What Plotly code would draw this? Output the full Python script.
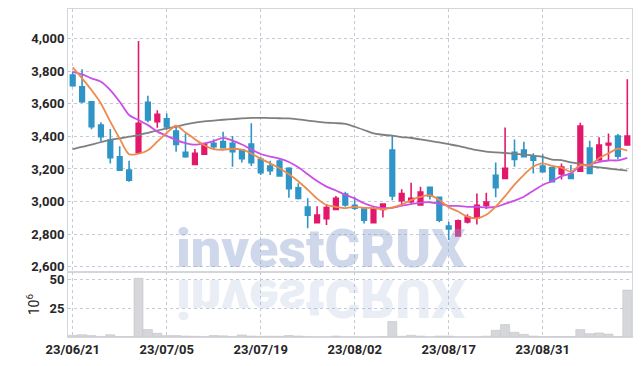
import plotly.graph_objects as go

dates = [
    "2023-06-21", "2023-06-22", "2023-06-23", "2023-06-26", "2023-06-27", "2023-06-28", "2023-06-29", "2023-06-30",
    "2023-07-03", "2023-07-04", "2023-07-05", "2023-07-06", "2023-07-07", "2023-07-10", "2023-07-11", "2023-07-12",
    "2023-07-13", "2023-07-14", "2023-07-17", "2023-07-18", "2023-07-19", "2023-07-20", "2023-07-21", "2023-07-24",
    "2023-07-25", "2023-07-26", "2023-07-27", "2023-07-28", "2023-07-31", "2023-08-01", "2023-08-02", "2023-08-03",
    "2023-08-04", "2023-08-07", "2023-08-08", "2023-08-09", "2023-08-10", "2023-08-11", "2023-08-14", "2023-08-16",
    "2023-08-17", "2023-08-18", "2023-08-21", "2023-08-22", "2023-08-23", "2023-08-24", "2023-08-25", "2023-08-28",
    "2023-08-29", "2023-08-30", "2023-08-31", "2023-09-01", "2023-09-04", "2023-09-05", "2023-09-06", "2023-09-07",
    "2023-09-08", "2023-09-11", "2023-09-12", "2023-09-13",
]

open_ = [3776, 3704, 3612, 3469, 3377, 3275, 3193, 3302, 3609, 3490,
         3508, 3432, 3302, 3228, 3290, 3357, 3369, 3357, 3316, 3353,
         3259, 3218, 3248, 3204, 3085, 2966, 2870, 2895, 2952, 3046,
         2977, 2954, 2870, 2952, 3316, 3005, 2999, 2979, 3087, 3026,
         2850, 2790, 2876, 2901, 2977, 3161, 3142, 3302, 3316, 3279,
         3218, 3208, 3169, 3169, 3187, 3328, 3255, 3347, 3402, 3347]
high = [3796, 3811, 3615, 3486, 3445, 3340, 3250, 3985, 3649, 3560,
        3540, 3469, 3418, 3322, 3358, 3383, 3428, 3402, 3320, 3480,
        3275, 3250, 3259, 3210, 3112, 3020, 2972, 2985, 3034, 3060,
        3026, 2956, 2972, 2990, 3402, 3075, 3116, 3091, 3091, 3030,
        2876, 2890, 2923, 3050, 3054, 3240, 3455, 3381, 3367, 3296,
        3291, 3210, 3234, 3224, 3484, 3373, 3394, 3418, 3414, 3750]
low = [3704, 3605, 3443, 3371, 3234, 3189, 3121, 3300, 3486, 3453,
       3440, 3305, 3269, 3228, 3290, 3320, 3325, 3214, 3240, 3218,
       3163, 3163, 3155, 3023, 3013, 2836, 2870, 2856, 2950, 2968,
       2948, 2866, 2870, 2903, 3009, 2972, 2989, 2975, 3013, 2874,
       2764, 2788, 2866, 2860, 2954, 3026, 3140, 3214, 3271, 3173,
       3177, 3120, 3136, 3140, 3185, 3170, 3250, 3250, 3259, 3345]
close = [3710, 3612, 3459, 3398, 3269, 3193, 3132, 3480, 3500, 3535,
         3457, 3351, 3275, 3296, 3353, 3336, 3330, 3306, 3263, 3238,
         3177, 3189, 3158, 3079, 3020, 2917, 2917, 2964, 3021, 2979,
         2960, 2886, 2956, 2985, 3034, 3050, 3020, 3058, 3034, 2886,
         2833, 2882, 2905, 2977, 2997, 3085, 3204, 3259, 3275, 3254,
         3183, 3122, 3212, 3142, 3463, 3173, 3347, 3357, 3279, 3402]

ma5 = [3823, 3756, 3684, 3602, 3490, 3386, 3290, 3294, 3315, 3368,
       3421, 3465, 3424, 3383, 3346, 3322, 3318, 3324, 3318, 3295,
       3263, 3235, 3205, 3168, 3125, 3073, 3018, 2979, 2968, 2960,
       2968, 2962, 2960, 2953, 2964, 2982, 3009, 3029, 3039, 3010,
       2966, 2939, 2908, 2897, 2919, 2969, 3034, 3104, 3164, 3215,
       3235, 3219, 3209, 3183, 3224, 3222, 3267, 3296, 3324, 3312]
ma10 = [3795, 3780, 3756, 3735, 3684, 3612, 3531, 3500, 3469, 3429,
        3404, 3377, 3359, 3349, 3357, 3371, 3391, 3374, 3350, 3320,
        3292, 3276, 3264, 3243, 3210, 3168, 3126, 3092, 3068, 3042,
        3020, 2990, 2970, 2960, 2962, 2975, 2985, 2994, 2996, 2987,
        2974, 2974, 2968, 2968, 2964, 2967, 2986, 3006, 3030, 3067,
        3102, 3126, 3156, 3173, 3219, 3228, 3243, 3252, 3253, 3268]
ma60 = [3322, 3335, 3350, 3365, 3378, 3388, 3398, 3408, 3422, 3436,
        3449, 3460, 3474, 3484, 3492, 3497, 3502, 3506, 3510, 3513,
        3514, 3512, 3511, 3510, 3504, 3497, 3490, 3484, 3481, 3476,
        3459, 3439, 3418, 3410, 3404, 3396, 3390, 3381, 3372, 3363,
        3352, 3341, 3328, 3316, 3307, 3302, 3298, 3293, 3289, 3282,
        3274, 3258, 3255, 3240, 3232, 3218, 3210, 3203, 3196, 3190]

volume_m = [1.5, 2.0, 1.2, 0.5, 2.0, 0.4, 0.5, 51.0, 6.5, 3.2,
            1.2, 1.3, 0.8, 0.6, 0.5, 1.3, 1.0, 0.5, 1.8, 0.8,
            0.6, 0.7, 0.6, 1.3, 0.8, 0.5, 0.3, 0.3, 0.8, 0.3,
            0.3, 0.2, 0.3, 0.4, 13.5, 0.6, 1.5, 0.8, 0.3, 0.8,
            0.8, 0.3, 0.3, 0.3, 0.7, 5.8, 10.8, 4.1, 2.3, 0.8,
            0.5, 0.4, 0.4, 0.4, 6.4, 2.9, 3.5, 2.5, 0.5, 40.7]

tick_dates = ["2023-06-21", "2023-07-05", "2023-07-19", "2023-08-02", "2023-08-17", "2023-08-31"]
tick_labels = ["23/06/21", "23/07/05", "23/07/19", "23/08/02", "23/08/17", "23/08/31"]
price_ticks = [2600, 2800, 3000, 3200, 3400, 3600, 3800, 4000]
volume_ticks = [25, 50]

UP = "#e2186a"
DOWN = "#2f95c7"
GRID = "#c6cad8"
FRAME = "#d4d6de"
TXT = "#262626"
FONT = "Roboto"

fig = go.Figure()

fig.add_trace(go.Bar(
    x=dates, y=volume_m, xaxis="x", yaxis="y2",
    marker=dict(color="#d6d7db", line=dict(color="#c4c5ca", width=0.6)),
    hoverinfo="skip", showlegend=False,
))

fig.add_trace(go.Candlestick(
    x=dates, open=open_, high=high, low=low, close=close,
    xaxis="x", yaxis="y",
    increasing=dict(line=dict(color=UP, width=1.6), fillcolor=UP),
    decreasing=dict(line=dict(color=DOWN, width=1.6), fillcolor=DOWN),
    whiskerwidth=0, hoverinfo="skip", showlegend=False,
))

for vals, col in [(ma60, "#7f7f7f"), (ma10, "#c94fe6"), (ma5, "#ee8a4c")]:
    fig.add_trace(go.Scatter(
        x=dates, y=vals, mode="lines", xaxis="x", yaxis="y",
        line=dict(color=col, width=1.8, shape="spline", smoothing=0.8),
        hoverinfo="skip", showlegend=False,
    ))

yfont = dict(family=FONT, size=13, color=TXT, weight="bold")
xfont = dict(family=FONT, size=13, color=TXT, weight="bold")

fig.update_layout(
    width=642, height=366,
    margin=dict(l=68, r=10, t=9, b=29, autoexpand=False),
    paper_bgcolor="white", plot_bgcolor="white",
    bargap=0.04,
    xaxis=dict(
        type="category", anchor="y2", range=[-0.5, len(dates) - 0.5],
        tickmode="array", tickvals=tick_dates, ticktext=tick_labels,
        showgrid=True, gridcolor=GRID, griddash="dot", gridwidth=1,
        showline=True, linecolor=FRAME, linewidth=1, mirror="all",
        ticks="", tickfont=xfont, rangeslider=dict(visible=False),
        zeroline=False, automargin=False,
    ),
    yaxis=dict(
        domain=[0.197, 1], range=[2566, 4181],
        tickmode="array", tickvals=price_ticks, tickformat=",d",
        showgrid=True, gridcolor=GRID, griddash="dot", gridwidth=1,
        showline=True, linecolor=FRAME, linewidth=1, mirror="all",
        ticks="", tickfont=yfont, zeroline=False, automargin=False,
    ),
    yaxis2=dict(
        domain=[0, 0.197], range=[0, 56.1],
        tickmode="array", tickvals=volume_ticks,
        showgrid=True, gridcolor=GRID, griddash="dot", gridwidth=1,
        showline=True, linecolor=FRAME, linewidth=1, mirror="all",
        ticks="", tickfont=yfont, zeroline=False, automargin=False,
        title=dict(text="10<sup>6</sup>", font=dict(family=FONT, size=14, color=TXT), standoff=6),
    ),
    annotations=[
        dict(text="investCRUX", xref="paper", yref="paper", x=0.449, y=0.197,
             xanchor="center", yanchor="bottom", showarrow=False,
             font=dict(family="Roboto", size=54, weight=900, color="rgba(140,160,205,0.42)"), yshift=-10),
        dict(text="investCRUX", xref="paper", yref="paper", x=0.449, y=0.197,
             xanchor="center", yanchor="top", showarrow=False,
             font=dict(family="Roboto", size=54, weight=900, color="rgba(140,160,205,0.2)"), yshift=7),
    ],
)

post = """
document.body.style.margin = '0';
document.body.style.padding = '0';
var gd = document.getElementById('{plot_id}');
function flip(){
  var anns = gd.querySelectorAll('g.annotation');
  if (anns.length > 1) {
    var g = anns[1].querySelector('g.annotation-text-g');
    if (g) {
      g.style.transformBox = 'fill-box';
      g.style.transformOrigin = 'center';
      g.style.transform = 'scaleY(-1)';
    }
  }
}
flip();
gd.on('plotly_afterplot', flip);
"""

fig.write_html("out.html", config={"displayModeBar": False}, post_script=post)
